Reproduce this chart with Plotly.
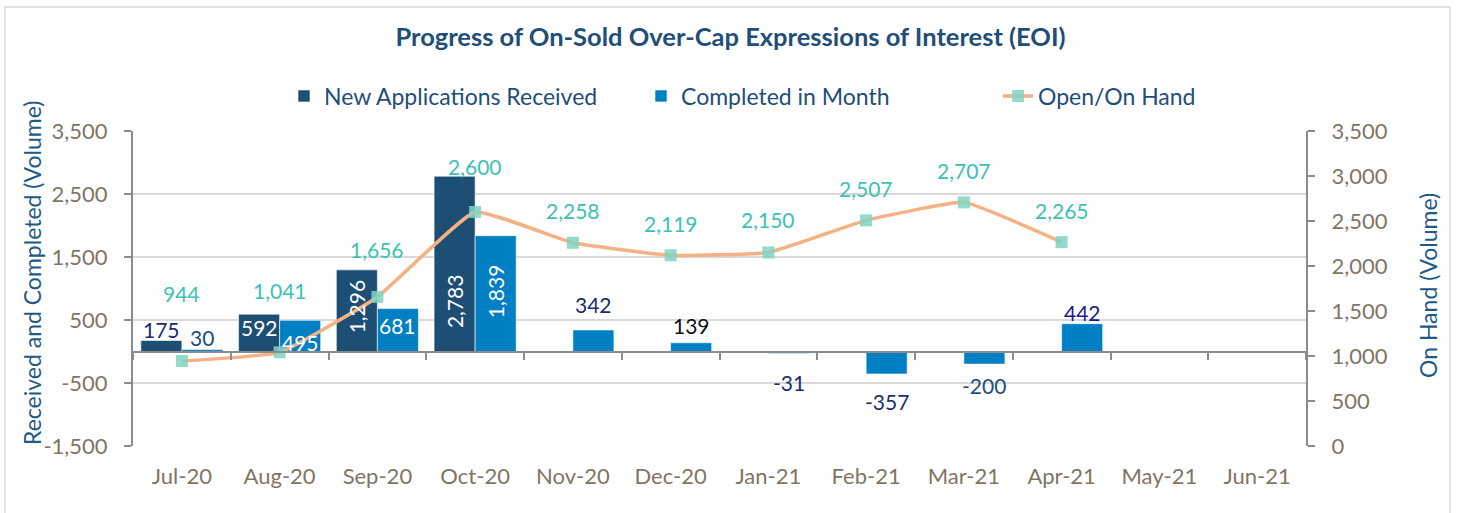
import plotly.graph_objects as go

# ---------------- data ----------------
months = ["Jul-20", "Aug-20", "Sep-20", "Oct-20", "Nov-20", "Dec-20",
          "Jan-21", "Feb-21", "Mar-21", "Apr-21", "May-21", "Jun-21"]
new_applications = [175, 592, 1296, 2783, None, None, None, None, None, None, None, None]
completed = [30, 495, 681, 1839, 342, 139, -31, -357, -200, 442, None, None]
on_hand = [944, 1041, 1656, 2600, 2258, 2119, 2150, 2507, 2707, 2265, None, None]

left_ticks = [-1500, -500, 500, 1500, 2500, 3500]
right_ticks = [0, 500, 1000, 1500, 2000, 2500, 3000, 3500]

# ---------------- styles ----------------
FONT = "Lato"
C_NEW = "#1D4E73"
C_DONE = "#0080C4"
C_LINE = "#F4B183"
C_MARK = "rgba(128,212,196,0.85)"
C_LBL_LINE = "#3CC2B4"
C_TICK = "#7F7566"
C_TITLE = "#1F4E79"
C_AXTITLE = "#1F5A85"
C_AXIS = "#8C8C8C"
C_GRID = "#D9D9D9"
BARGAP = 0.16
half = (1 - BARGAP) / 4
LBL = 21

W, H = 1461, 513
PL, PR, PT, PB = 133, 1306, 131, 446  # plot-area pixel box


def px_x(px):
    return (px - PL) / (PR - PL)


def px_y(py):
    return (PB - py) / (PB - PT)


def fmt(v):
    return "" if v is None else f"{v:,}"


fig = go.Figure()

fig.add_trace(go.Bar(
    x=months, y=new_applications, name="New Applications Received",
    marker=dict(color=C_NEW, line=dict(color="white", width=0.6)),
    hoverinfo="skip", yaxis="y", xaxis="x",
))
fig.add_trace(go.Bar(
    x=months, y=completed, name="Completed in Month",
    marker=dict(color=C_DONE, line=dict(color="white", width=0.6)),
    hoverinfo="skip", yaxis="y", xaxis="x",
))
fig.add_trace(go.Scatter(
    x=months, y=on_hand, name="Open/On Hand", mode="lines+markers",
    line=dict(color=C_LINE, width=3.5, shape="spline", smoothing=0.35),
    marker=dict(symbol="square", size=12, color=C_MARK),
    yaxis="y2", xaxis="x", cliponaxis=False, hoverinfo="skip",
))
# invisible helper trace for the zero-line category tick axis
fig.add_trace(go.Scatter(x=months, y=[None] * len(months), xaxis="x2", yaxis="y",
                         showlegend=False, hoverinfo="skip"))

annotations = []
# line value labels (pixel offset above the point)
line_shift = [68, 62, 47, 46, 32, 32, 33, 32, 32, 32]
for i, v in enumerate(on_hand):
    if v is None:
        continue
    annotations.append(dict(x=months[i], y=v, xref="x", yref="y2", text=fmt(v),
                            showarrow=False, yshift=line_shift[i],
                            font=dict(family=FONT, size=LBL, color=C_LBL_LINE)))

# horizontal bar labels: (series, index, pixel offset of label centre from bar end, colour)
bar_labels = [
    ("new", 0, 11, "#1B2A6E"),
    ("new", 1, -13, "white"),
    ("done", 0, 12, "#1F4E79"),
    ("done", 1, -22, "white"),
    ("done", 2, -17, "white"),
    ("done", 4, 25, "#1A2B6B"),
    ("done", 5, 17, "#111111"),
    ("done", 6, -29, "#17306B"),
    ("done", 7, -28, "#17306B"),
    ("done", 8, -21, "#1F4E79"),
    ("done", 9, 11, "#1A1A8C"),
]
for series, i, off, col in bar_labels:
    vals = new_applications if series == "new" else completed
    xoff = -half if series == "new" else half
    annotations.append(dict(x=i + xoff, y=vals[i], xref="x", yref="y", text=fmt(vals[i]),
                            showarrow=False, yanchor="middle", yshift=off,
                            font=dict(family=FONT, size=LBL, color=col)))

# rotated inside-bar labels (pixel offset of label bottom from the zero line)
rot = [("new", 2, 16), ("new", 3, 21), ("done", 3, 31)]
for series, i, ys in rot:
    vals = new_applications if series == "new" else completed
    xoff = -half if series == "new" else half
    annotations.append(dict(x=i + xoff, y=0, xref="x", yref="y", text=fmt(vals[i]),
                            textangle=-90, showarrow=False, yanchor="bottom", yshift=ys,
                            font=dict(family=FONT, size=LBL, color="white")))
# axis titles
annotations.append(dict(x=px_x(32), y=px_y(273), xref="paper", yref="paper",
                        text="Received and Completed (Volume)", textangle=-90,
                        showarrow=False, xanchor="center", yanchor="middle",
                        font=dict(family=FONT, size=23, color=C_AXTITLE)))
annotations.append(dict(x=px_x(1428), y=px_y(286), xref="paper", yref="paper",
                        text="On Hand (Volume)", textangle=-90,
                        showarrow=False, xanchor="center", yanchor="middle",
                        font=dict(family=FONT, size=23, color=C_AXTITLE)))

fig.update_layout(
    width=W, height=H,
    margin=dict(l=PL, r=W - PR, t=PT, b=H - PB, autoexpand=False),
    paper_bgcolor="white", plot_bgcolor="white",
    barmode="group", bargap=BARGAP, bargroupgap=0,
    font=dict(family=FONT, size=22, color=C_TICK),
    title=dict(text="<b>Progress of On-Sold Over-Cap Expressions of Interest (EOI)</b>",
               x=0.5, xanchor="center", y=1 - 37 / H, yanchor="middle",
               font=dict(family=FONT, size=25.5, color=C_TITLE)),
    legend=dict(orientation="h", x=px_x(284), xanchor="left", y=px_y(96), yanchor="middle",
                font=dict(family=FONT, size=23, color=C_TITLE), bgcolor="rgba(0,0,0,0)",
                traceorder="normal", entrywidth=312, entrywidthmode="pixels"),
    showlegend=True,
    xaxis=dict(type="category", categoryorder="array", categoryarray=months,
               range=[-0.5, 11.5], showline=False, ticks="", showgrid=False,
               tickfont=dict(family=FONT, size=22, color=C_TICK), ticklabelstandoff=15,
               fixedrange=True),
    xaxis2=dict(type="category", categoryorder="array", categoryarray=months,
                range=[-0.5, 11.5], overlaying="x", anchor="free", position=0.3,
                side="bottom", showticklabels=False, ticks="outside", tickson="boundaries",
                ticklen=7, tickwidth=2, tickcolor=C_AXIS, showline=True, linecolor=C_AXIS,
                linewidth=2, showgrid=False),
    yaxis=dict(range=[-1500, 3500], tickvals=left_ticks,
               ticktext=[f"{v:,}" for v in left_ticks],
               showgrid=True, gridcolor=C_GRID, gridwidth=2, zeroline=False,
               showline=True, linecolor=C_AXIS, linewidth=2, ticks="outside",
               ticklen=7, tickwidth=2, tickcolor=C_AXIS, ticklabelstandoff=12,
               tickfont=dict(family=FONT, size=22, color=C_TICK)),
    yaxis2=dict(range=[0, 3500], tickvals=right_ticks,
                ticktext=[f"{v:,}" for v in right_ticks],
                overlaying="y", side="right", showgrid=False, zeroline=False,
                showline=True, linecolor=C_AXIS, linewidth=2, ticks="outside",
                ticklen=7, tickwidth=2, tickcolor=C_AXIS, ticklabelstandoff=12,
                tickfont=dict(family=FONT, size=22, color=C_TICK)),
    annotations=annotations,
    shapes=[dict(type="rect", xref="paper", yref="paper",
                 x0=px_x(5), x1=px_x(1450), y0=px_y(530), y1=px_y(7),
                 line=dict(color="#D9D9D9", width=1.5), fillcolor="rgba(0,0,0,0)",
                 layer="below")],
)

fig.write_html("out.html", config={"displayModeBar": False},
               post_script="document.body.style.margin='0px';")
